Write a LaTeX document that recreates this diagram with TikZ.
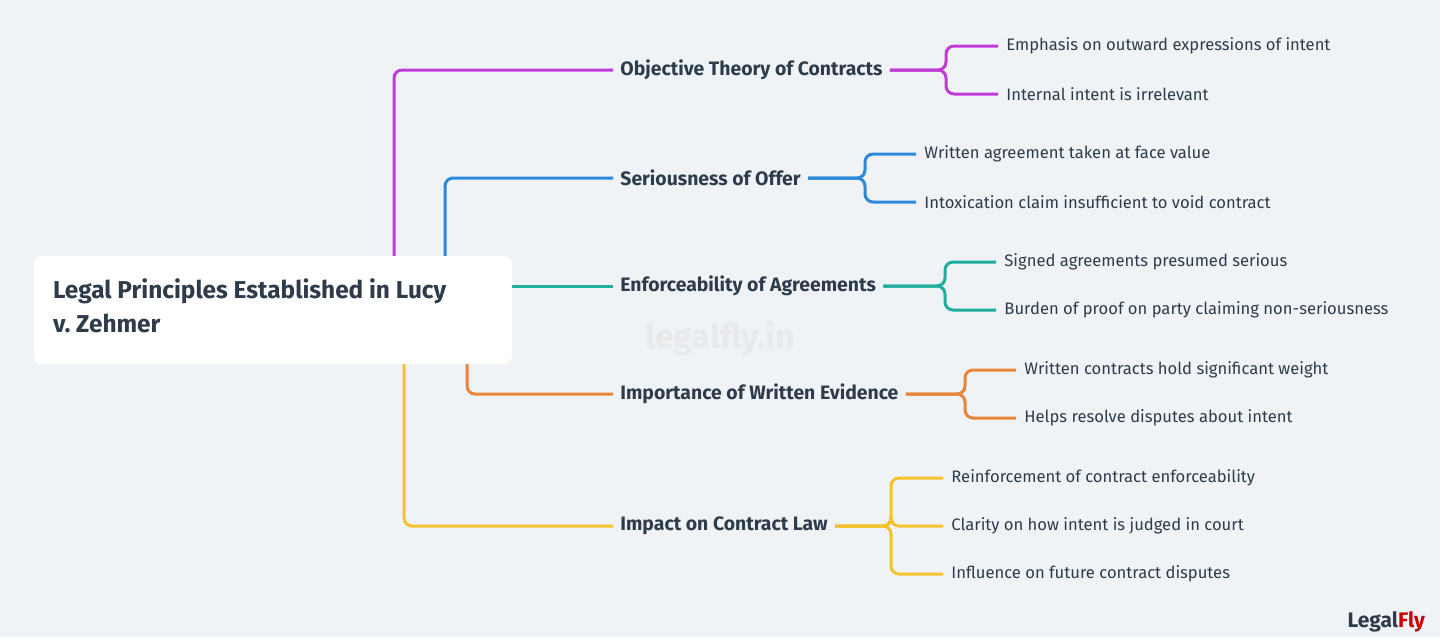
\documentclass[tikz,border=0pt]{standalone}
\usepackage{fontspec}
\setmainfont{Fira Sans}
\usepackage{tikz}
\definecolor{bgc}{HTML}{EFF3F6}
\definecolor{ink}{HTML}{2D3B4A}
\definecolor{cmag}{HTML}{C03BD6}
\definecolor{cblu}{HTML}{2B87D9}
\definecolor{ctea}{HTML}{1DAE9E}
\definecolor{cora}{HTML}{E8843A}
\definecolor{cyel}{HTML}{F5C22B}
\begin{document}
\begin{tikzpicture}[x=0.5pt,y=-0.5pt]
    \tikzstyle{branch} = [anchor=west, inner sep=3.5pt, text=ink, font=\fontsize{9.7}{11}\selectfont\bfseries]
    \tikzstyle{leaf} = [anchor=west, inner sep=4pt, text=ink, font=\fontsize{8.3}{10}\selectfont]
    \tikzstyle{edge} = [line width=1.5pt, rounded corners=4pt]

    % Background
    \fill[bgc] (0,0) rectangle (1440,637);
    \node[text=ink!11, font=\fontsize{17}{20}\selectfont\bfseries] (mark) at (720,338) {legalfly.in};

    % Trunks (behind the root box)
    \node[branch] (obj) at (613,70) {Objective Theory of Contracts};
    \node[branch] (ser) at (613,178) {Seriousness of Offer};
    \node[branch] (enf) at (613,286) {Enforceability of Agreements};
    \node[branch] (imp) at (613,394) {Importance of Written Evidence};
    \node[branch] (law) at (613,526) {Impact on Contract Law};
    \coordinate (tmag) at (394,300);
    \coordinate (tblu) at (445,300);
    \coordinate (tora) at (467,330);
    \coordinate (tyel) at (404,330);
    \coordinate (ttea) at (500,286);
    \draw[edge, cmag] (tmag) |- (obj.west);
    \draw[edge, cblu] (tblu) |- (ser.west);
    \draw[edge, ctea] (ttea) -- (enf.west);
    \draw[edge, cora] (tora) |- (imp.west);
    \draw[edge, cyel] (tyel) |- (law.west);

    % Root
    \fill[white, rounded corners=4pt] (34,256) rectangle (512,364);
    \node[anchor=north west, text=ink, align=left,
          font=\fontsize{12.2}{17}\selectfont\bfseries] (root) at (46,272)
          {Legal Principles Established in Lucy\\v.\ Zehmer};

    % Leaves
    \node[leaf] (o1) at (998,46) {Emphasis on outward expressions of intent};
    \node[leaf] (o2) at (998,94) {Internal intent is irrelevant};
    \node[leaf] (s1) at (916,154) {Written agreement taken at face value};
    \node[leaf] (s2) at (916,202) {Intoxication claim insufficient to void contract};
    \node[leaf] (e1) at (996,262) {Signed agreements presumed serious};
    \node[leaf] (e2) at (996,310) {Burden of proof on party claiming non-seriousness};
    \node[leaf] (i1) at (1016,370) {Written contracts hold significant weight};
    \node[leaf] (i2) at (1016,418) {Helps resolve disputes about intent};
    \node[leaf] (l1) at (943,478) {Reinforcement of contract enforceability};
    \node[leaf] (l2) at (943,526) {Clarity on how intent is judged in court};
    \node[leaf] (l3) at (943,574) {Influence on future contract disputes};

    % Forks
    \coordinate (fobj) at (946,70);
    \coordinate (fser) at (865,178);
    \coordinate (fenf) at (945,286);
    \coordinate (fimp) at (965,394);
    \coordinate (flaw) at (891,526);
    \foreach \s/\f/\c/\l in {obj/fobj/cmag/o1, obj/fobj/cmag/o2, ser/fser/cblu/s1, ser/fser/cblu/s2,
        enf/fenf/ctea/e1, enf/fenf/ctea/e2, imp/fimp/cora/i1, imp/fimp/cora/i2,
        law/flaw/cyel/l1, law/flaw/cyel/l2, law/flaw/cyel/l3}
        \draw[edge, \c] (\s.east) -- (\f) |- (\l.west);

    % Logo
    \node[anchor=east, text=ink, font=\fontsize{10.5}{12}\selectfont\bfseries] (logo) at (1432,622)
        {Legal\textcolor{red!80!black}{Fly}};
\end{tikzpicture}
\end{document}
